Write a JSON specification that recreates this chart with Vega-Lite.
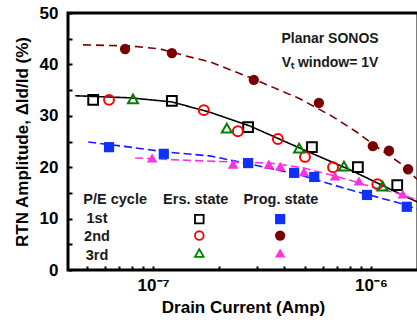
{
  "$schema": "https://vega.github.io/schema/vega-lite/v6.json",
  "width": 350,
  "height": 257,
  "autosize": "none",
  "padding": {"left": 68, "top": 13, "right": 0, "bottom": 62},
  "background": "white",
  "config": {
    "font": "Liberation Sans",
    "view": {"stroke": "black", "strokeWidth": 3},
    "axis": {"grid": false, "domain": false, "labelFont": "Liberation Sans", "titleFont": "Liberation Sans", "labelFontWeight": "bold", "titleFontWeight": "bold", "labelColor": "black", "titleColor": "black", "tickColor": "black"}
  },
  "datasets": {
    "pts": [
      {"I": 5.31e-8, "amp": 33.1, "series": "1st Ers"},
      {"I": 1.22e-7, "amp": 32.9, "series": "1st Ers"},
      {"I": 2.73e-7, "amp": 27.8, "series": "1st Ers"},
      {"I": 5.36e-7, "amp": 23.9, "series": "1st Ers"},
      {"I": 8.71e-7, "amp": 20.0, "series": "1st Ers"},
      {"I": 1.32e-6, "amp": 16.5, "series": "1st Ers"},
      {"I": 6.28e-8, "amp": 33.1, "series": "2nd Ers"},
      {"I": 1.71e-7, "amp": 31.1, "series": "2nd Ers"},
      {"I": 2.45e-7, "amp": 27.0, "series": "2nd Ers"},
      {"I": 3.74e-7, "amp": 25.5, "series": "2nd Ers"},
      {"I": 4.98e-7, "amp": 22.0, "series": "2nd Ers"},
      {"I": 6.70e-7, "amp": 20.0, "series": "2nd Ers"},
      {"I": 1.07e-6, "amp": 16.7, "series": "2nd Ers"},
      {"I": 8.09e-8, "amp": 33.3, "series": "3rd Ers"},
      {"I": 2.18e-7, "amp": 27.6, "series": "3rd Ers"},
      {"I": 4.68e-7, "amp": 23.7, "series": "3rd Ers"},
      {"I": 7.52e-7, "amp": 20.2, "series": "3rd Ers"},
      {"I": 1.13e-6, "amp": 16.3, "series": "3rd Ers"},
      {"I": 6.28e-8, "amp": 23.9, "series": "1st Prog"},
      {"I": 1.12e-7, "amp": 22.6, "series": "1st Prog"},
      {"I": 2.73e-7, "amp": 20.8, "series": "1st Prog"},
      {"I": 4.44e-7, "amp": 18.9, "series": "1st Prog"},
      {"I": 5.49e-7, "amp": 18.1, "series": "1st Prog"},
      {"I": 9.59e-7, "amp": 14.6, "series": "1st Prog"},
      {"I": 1.46e-6, "amp": 12.3, "series": "1st Prog"},
      {"I": 7.44e-8, "amp": 43.0, "series": "2nd Prog"},
      {"I": 1.22e-7, "amp": 42.2, "series": "2nd Prog"},
      {"I": 2.90e-7, "amp": 37.0, "series": "2nd Prog"},
      {"I": 5.77e-7, "amp": 32.5, "series": "2nd Prog"},
      {"I": 1.02e-6, "amp": 24.1, "series": "2nd Prog"},
      {"I": 1.21e-6, "amp": 23.2, "series": "2nd Prog"},
      {"I": 1.48e-6, "amp": 19.6, "series": "2nd Prog"},
      {"I": 9.9e-8, "amp": 21.8, "series": "3rd Prog"},
      {"I": 2.33e-7, "amp": 20.6, "series": "3rd Prog"},
      {"I": 3.40e-7, "amp": 20.6, "series": "3rd Prog"},
      {"I": 3.83e-7, "amp": 20.2, "series": "3rd Prog"},
      {"I": 4.93e-7, "amp": 19.1, "series": "3rd Prog"},
      {"I": 6.84e-7, "amp": 18.3, "series": "3rd Prog"},
      {"I": 8.81e-7, "amp": 17.3, "series": "3rd Prog"},
      {"I": 1.40e-6, "amp": 14.8, "series": "3rd Prog"}
    ],
    "fits": [
      {"I": 4.77e-8, "amp": 43.8, "series": "fit prog2"},
      {"I": 7.84e-8, "amp": 43.6, "series": "fit prog2"},
      {"I": 1.08e-7, "amp": 43.0, "series": "fit prog2"},
      {"I": 1.43e-7, "amp": 41.6, "series": "fit prog2"},
      {"I": 1.82e-7, "amp": 40.5, "series": "fit prog2"},
      {"I": 2.88e-7, "amp": 37.2, "series": "fit prog2"},
      {"I": 4.72e-7, "amp": 33.3, "series": "fit prog2"},
      {"I": 6.70e-7, "amp": 29.8, "series": "fit prog2"},
      {"I": 8.63e-7, "amp": 26.8, "series": "fit prog2"},
      {"I": 1.10e-6, "amp": 23.5, "series": "fit prog2"},
      {"I": 1.36e-6, "amp": 20.8, "series": "fit prog2"},
      {"I": 1.68e-6, "amp": 17.1, "series": "fit prog2"},
      {"I": 4.39e-8, "amp": 33.9, "series": "fit ers"},
      {"I": 7.84e-8, "amp": 33.5, "series": "fit ers"},
      {"I": 1.22e-7, "amp": 32.7, "series": "fit ers"},
      {"I": 1.82e-7, "amp": 30.7, "series": "fit ers"},
      {"I": 2.79e-7, "amp": 28.0, "series": "fit ers"},
      {"I": 4.72e-7, "amp": 23.7, "series": "fit ers"},
      {"I": 8.01e-7, "amp": 19.5, "series": "fit ers"},
      {"I": 1.36e-6, "amp": 14.8, "series": "fit ers"},
      {"I": 1.68e-6, "amp": 13.0, "series": "fit ers"},
      {"I": 5.04e-8, "amp": 24.9, "series": "fit prog1"},
      {"I": 7.84e-8, "amp": 23.9, "series": "fit prog1"},
      {"I": 1.12e-7, "amp": 23.0, "series": "fit prog1"},
      {"I": 1.82e-7, "amp": 22.2, "series": "fit prog1"},
      {"I": 2.79e-7, "amp": 20.6, "series": "fit prog1"},
      {"I": 4.72e-7, "amp": 18.5, "series": "fit prog1"},
      {"I": 8.01e-7, "amp": 15.6, "series": "fit prog1"},
      {"I": 1.36e-6, "amp": 13.0, "series": "fit prog1"},
      {"I": 1.68e-6, "amp": 11.7, "series": "fit prog1"},
      {"I": 8.27e-8, "amp": 21.8, "series": "fit prog3"},
      {"I": 1.33e-7, "amp": 21.4, "series": "fit prog3"},
      {"I": 2.33e-7, "amp": 21.0, "series": "fit prog3"},
      {"I": 3.44e-7, "amp": 20.8, "series": "fit prog3"},
      {"I": 4.72e-7, "amp": 20.0, "series": "fit prog3"},
      {"I": 6.84e-7, "amp": 18.3, "series": "fit prog3"},
      {"I": 9.89e-7, "amp": 16.3, "series": "fit prog3"},
      {"I": 1.36e-6, "amp": 14.8, "series": "fit prog3"},
      {"I": 1.68e-6, "amp": 13.4, "series": "fit prog3"}
    ],
    "legsym": [
      {"I": 1.63e-7, "amp": 9.9, "series": "1st Ers"},
      {"I": 1.63e-7, "amp": 6.7, "series": "2nd Ers"},
      {"I": 1.63e-7, "amp": 3.3, "series": "3rd Ers"},
      {"I": 3.83e-7, "amp": 9.9, "series": "1st Prog"},
      {"I": 3.83e-7, "amp": 6.7, "series": "2nd Prog"},
      {"I": 3.83e-7, "amp": 3.3, "series": "3rd Prog"}
    ],
    "legtext": [
      {"I": 6.7e-8, "amp": 13.6, "label": "P/E cycle", "align": "center"},
      {"I": 1.57e-7, "amp": 13.6, "label": "Ers. state", "align": "center"},
      {"I": 3.86e-7, "amp": 13.6, "label": "Prog. state", "align": "center"},
      {"I": 5.53e-8, "amp": 9.9, "label": "1st", "align": "left"},
      {"I": 5.53e-8, "amp": 6.4, "label": "2nd", "align": "left"},
      {"I": 5.53e-8, "amp": 2.7, "label": "3rd", "align": "left"}
    ],
    "notes": [
      {"I": 6.49e-7, "amp": 45.0, "label": "Planar SONOS"},
      {"I": 6.49e-7, "amp": 40.3, "label": "Vₜ window= 1V"}
    ]
  },
  "encoding": {
    "x": {
      "field": "I", "type": "quantitative",
      "scale": {"type": "log", "domain": [4.07e-8, 1.644e-6], "nice": false},
      "axis": {
        "title": "Drain Current (Amp)", "titleFontSize": 17, "titlePadding": 6,
        "values": [5e-8, 6e-8, 7e-8, 8e-8, 9e-8, 1e-7, 2e-7, 3e-7, 4e-7, 5e-7, 6e-7, 7e-7, 8e-7, 9e-7, 1e-6],
        "labelExpr": "datum.value == 1e-7 ? '10⁻⁷' : (datum.value == 1e-6 ? '10⁻⁶' : '')",
        "labelFontSize": 17, "labelPadding": 11, "tickSize": -4, "tickWidth": 2
      }
    },
    "y": {
      "field": "amp", "type": "quantitative",
      "scale": {"domain": [0, 50], "nice": false},
      "axis": {
        "title": "RTN Amplitude, ΔId/Id (%)", "titleFontSize": 17, "titlePadding": 8,
        "values": [0, 5, 10, 15, 20, 25, 30, 35, 40, 45, 50],
        "labelExpr": "datum.value % 10 == 0 ? datum.label : ''",
        "labelFontSize": 17, "labelPadding": 14, "tickSize": -4, "tickWidth": 2
      }
    },
    "color": {"field": "series", "type": "nominal", "legend": null,
      "scale": {"domain": ["1st Ers", "2nd Ers", "3rd Ers", "1st Prog", "2nd Prog", "3rd Prog", "fit prog2", "fit ers", "fit prog1", "fit prog3"],
                "range": ["#000000", "#ff0000", "#008000", "#1030ff", "#7a0000", "#ff33dd", "#7a0000", "#000000", "#1a1aff", "#ff33dd"]}}
  },
  "layer": [
    {
      "data": {"name": "fits"},
      "mark": {"type": "line", "strokeWidth": 1.6, "clip": true},
      "encoding": {
        "detail": {"field": "series"},
        "strokeDash": {"field": "series", "type": "nominal", "legend": null,
          "scale": {"domain": ["fit prog2", "fit ers", "fit prog1", "fit prog3"], "range": [[8, 5], [1, 0], [8, 4], [8, 4]]}}
      }
    },
    {
      "data": {"name": "pts"},
      "transform": [{"filter": "indexof(datum.series, 'Ers') >= 0"}],
      "mark": {"type": "point", "filled": false, "strokeWidth": 2, "opacity": 1, "clip": true},
      "encoding": {
        "shape": {"field": "series", "type": "nominal", "legend": null,
          "scale": {"domain": ["1st Ers", "2nd Ers", "3rd Ers", "1st Prog", "2nd Prog", "3rd Prog"], "range": ["square", "circle", "triangle-up", "square", "circle", "triangle-up"]}},
        "size": {"field": "series", "type": "nominal", "legend": null,
          "scale": {"domain": ["1st Ers", "2nd Ers", "3rd Ers", "1st Prog", "2nd Prog", "3rd Prog"], "range": [95, 110, 140, 110, 140, 190]}}
      }
    },
    {
      "data": {"name": "pts"},
      "transform": [{"filter": "indexof(datum.series, 'Prog') >= 0"}],
      "mark": {"type": "point", "filled": true, "opacity": 1, "clip": true},
      "encoding": {
        "shape": {"field": "series", "type": "nominal", "legend": null},
        "size": {"field": "series", "type": "nominal", "legend": null}
      }
    },
    {
      "data": {"name": "legsym"},
      "transform": [{"filter": "indexof(datum.series, 'Ers') >= 0"}],
      "mark": {"type": "point", "filled": false, "strokeWidth": 1.8, "size": 75, "opacity": 1},
      "encoding": {
        "shape": {"field": "series", "type": "nominal", "legend": null}
      }
    },
    {
      "data": {"name": "legsym"},
      "transform": [{"filter": "indexof(datum.series, 'Prog') >= 0"}],
      "mark": {"type": "point", "filled": true, "opacity": 1},
      "encoding": {
        "shape": {"field": "series", "type": "nominal", "legend": null},
        "size": {"field": "series", "type": "nominal", "legend": null}
      }
    },
    {
      "data": {"name": "legtext"},
      "mark": {"type": "text", "fontSize": 14.5, "fontWeight": "bold", "baseline": "middle"},
      "encoding": {
        "color": {"value": "#1a1a1a"},
        "text": {"field": "label"},
        "align": {"field": "align", "type": "nominal", "scale": null}
      }
    },
    {
      "data": {"name": "notes"},
      "mark": {"type": "text", "fontSize": 14, "fontWeight": "bold", "baseline": "middle", "align": "center"},
      "encoding": {"color": {"value": "#1a1a1a"}, "text": {"field": "label"}}
    }
  ]
}
